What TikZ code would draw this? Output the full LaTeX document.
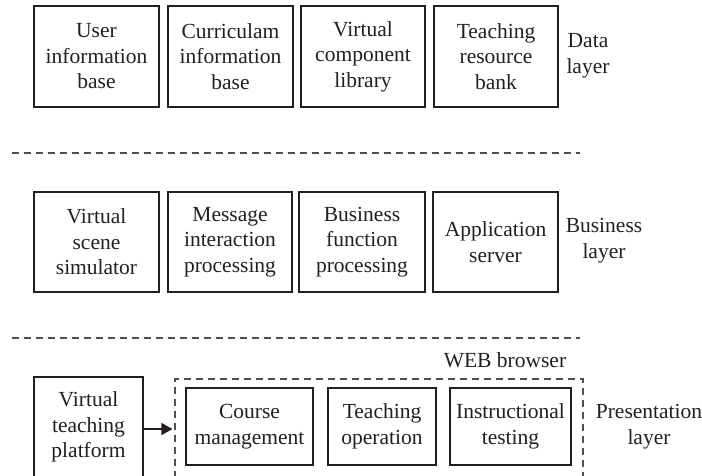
\documentclass[tikz,border=0pt]{standalone}
\usepackage{fontspec}
\setmainfont{Liberation Serif}
\usetikzlibrary{arrows.meta}
\definecolor{ink}{HTML}{231F20}
\definecolor{dashgray}{HTML}{505050}
\begin{document}
\begin{tikzpicture}[x=1pt,y=-1pt,
  every node/.style={text=ink,font=\fontsize{21.5}{25.5}\selectfont},
  blk/.style={draw=ink,line width=1.1pt,align=center,inner sep=0pt,anchor=center},
  lbl/.style={align=center,inner sep=0pt,anchor=center},
  sep/.style={draw=dashgray,line width=1.1pt,dash pattern=on 7pt off 5pt},
  webbox/.style={draw=dashgray,line width=1.1pt,dash pattern=on 7pt off 5pt,inner sep=0pt,anchor=center}]
\useasboundingbox (0,0) rectangle (702,475);
% Data layer
\node[blk,minimum width=125pt,minimum height=101pt] (d1) at (96.5,56.5) {User\\information\\base};
\node[blk,minimum width=125pt,minimum height=101pt] (d2) at (230.5,56.5) {Curriculam\\information\\base};
\node[blk,minimum width=124pt,minimum height=101pt] (d3) at (363,56.5) {Virtual\\component\\library};
\node[blk,minimum width=124pt,minimum height=101pt] (d4) at (496,56.5) {Teaching\\resource\\bank};
\node[lbl] (dl) at (588,56) {Data\\layer};
% separator 1
\coordinate (s1a) at (12,153);
\coordinate (s1b) at (580,153);
\draw[sep] (s1a) -- (s1b);
% Business layer
\node[blk,minimum width=125pt,minimum height=100pt] (b1) at (96.5,242) {Virtual\\scene\\simulator};
\node[blk,minimum width=124pt,minimum height=100pt] (b2) at (230,242) {Message\\interaction\\processing};
\node[blk,minimum width=126pt,minimum height=100pt] (b3) at (362,242) {Business\\function\\processing};
\node[blk,minimum width=125pt,minimum height=100pt] (b4) at (495.5,242) {Application\\server};
\node[lbl] (bl) at (604,240.5) {Business\\layer};
% separator 2
\coordinate (s2a) at (12,338);
\coordinate (s2b) at (580,338);
\draw[sep] (s2a) -- (s2b);
% Presentation layer
\node[blk,minimum width=109pt,minimum height=100pt] (vtp) at (88.5,427) {Virtual\\teaching\\platform};
\node[webbox,minimum width=408pt,minimum height=100pt] (web) at (379,429) {};
\node[lbl] (webl) at (505,360) {WEB browser};
\node[blk,minimum width=127pt,minimum height=77pt] (p1) at (249.5,426.5) {Course\\management};
\node[blk,minimum width=108pt,minimum height=77pt] (p2) at (382,426.5) {Teaching\\operation};
\node[blk,minimum width=121pt,minimum height=77pt] (p3) at (510.5,426.5) {Instructional\\testing};
\node[lbl] (pl) at (649,426.5) {Presentation\\layer};
\draw[draw=ink,fill=ink,line width=1.1pt,-{Triangle[length=11pt,width=12pt]}] (vtp.east |- web.west) -- ([xshift=-2pt]web.west);
\end{tikzpicture}
\end{document}
